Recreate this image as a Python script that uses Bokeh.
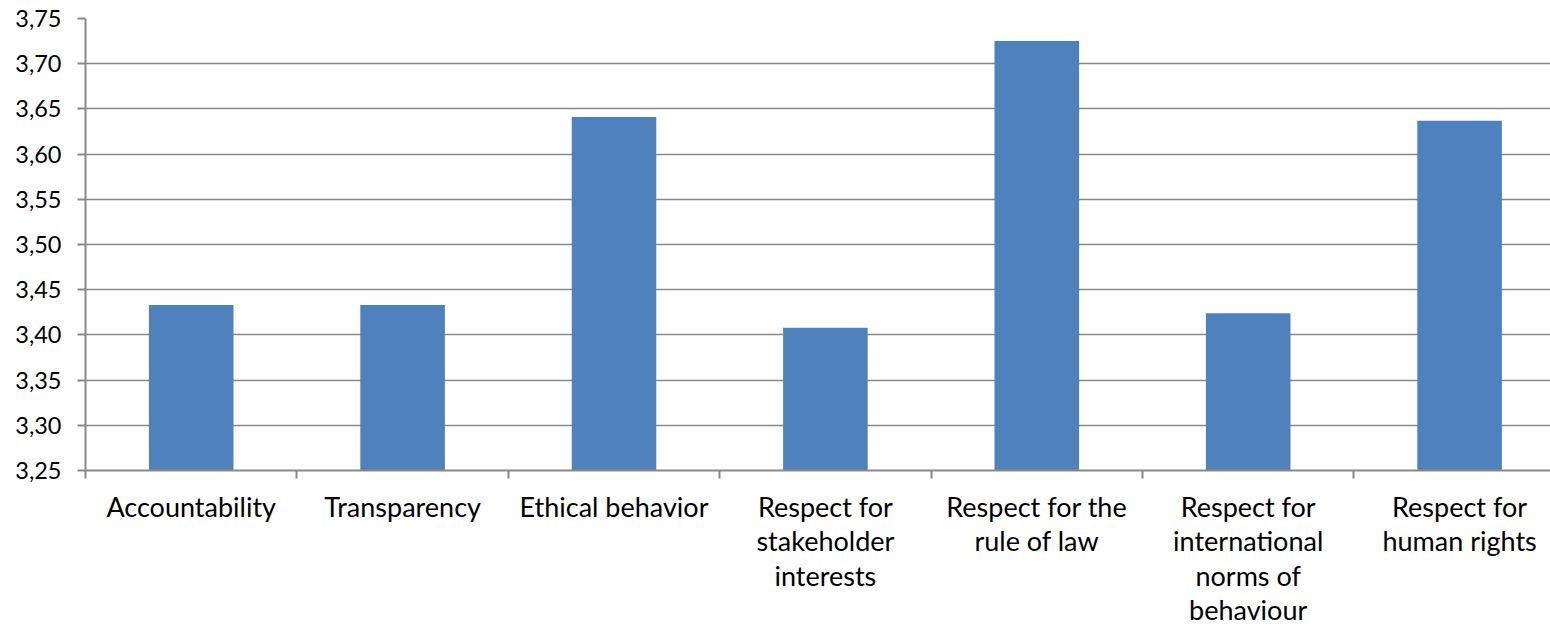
from bokeh.plotting import figure
from bokeh.models import Range1d, FixedTicker, CustomJSTickFormatter
from bokeh.embed import file_html
from bokeh.resources import INLINE

categories = ["Accountability", "Transparency", "Ethical behavior",
              "Respect for\nstakeholder\ninterests", "Respect for the\nrule of law",
              "Respect for\ninternational\nnorms of\nbehaviour", "Respect for\nhuman rights"]
values = [3.433, 3.433, 3.641, 3.408, 3.725, 3.424, 3.637]
y_ticks = [3.25, 3.30, 3.35, 3.40, 3.45, 3.50, 3.55, 3.60, 3.65, 3.70, 3.75]

centers = [i + 0.5 for i in range(len(categories))]
bounds = [float(i) for i in range(len(categories) + 1)]

p = figure(width=1550, height=629, output_backend="svg", toolbar_location=None,
           x_range=Range1d(0, 6.93), y_range=Range1d(3.25, 3.75),
           min_border_left=85, min_border_right=0, min_border_top=18, min_border_bottom=159)
p.outline_line_color = None
p.background_fill_color = "white"

p.vbar(x=centers, top=values, bottom=3.25, width=0.4, fill_color="#4F81BD", line_color=None)

grey = "#898989"
# y axis
p.yaxis.ticker = FixedTicker(ticks=y_ticks)
p.yaxis.formatter = CustomJSTickFormatter(code="return tick.toFixed(2).replace('.', ',');")
p.yaxis.axis_line_color = grey
p.yaxis.axis_line_width = 2
p.yaxis.major_tick_line_color = grey
p.yaxis.major_tick_line_width = 2
p.yaxis.major_tick_in = 0
p.yaxis.major_tick_out = 8
p.yaxis.minor_tick_line_color = None
p.yaxis.major_label_text_font = "Lato"
p.yaxis.major_label_text_font_size = "23.5px"
p.yaxis.major_label_text_color = "black"
p.yaxis.major_label_standoff = 16

p.ygrid.ticker = FixedTicker(ticks=y_ticks)
p.ygrid.grid_line_color = grey
p.ygrid.grid_line_width = 1.5
p.xgrid.grid_line_color = None

# x axis
p.xaxis.ticker = FixedTicker(ticks=centers, minor_ticks=bounds)
p.xaxis.major_label_overrides = {c: lab for c, lab in zip(centers, categories)}
p.xaxis.axis_line_color = grey
p.xaxis.axis_line_width = 2
p.xaxis.major_tick_line_color = None
p.xaxis.minor_tick_line_color = grey
p.xaxis.minor_tick_line_width = 2
p.xaxis.minor_tick_in = 0
p.xaxis.minor_tick_out = 8
p.xaxis.major_tick_in = 0
p.xaxis.major_tick_out = 8
p.xaxis.major_label_text_font = "Lato"
p.xaxis.major_label_text_font_size = "27px"
p.xaxis.major_label_text_color = "black"
p.xaxis.major_label_text_line_height = 1.05
p.xaxis.major_label_text_align = "center"
p.xaxis.major_label_standoff = 11

open("out.html", "w").write(file_html(p, INLINE))
